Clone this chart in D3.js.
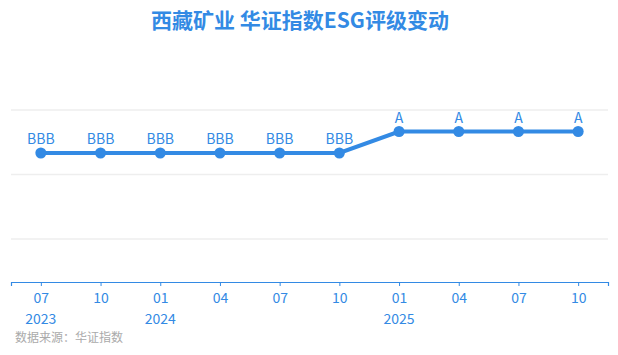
<!DOCTYPE html>
<meta charset="utf-8">
<script src="https://d3js.org/d3.v7.min.js"></script>
<style>
  body { margin: 0; background: #fff; font-family: "Noto Sans CJK SC", "Noto Sans", sans-serif; }
</style>
<body>
<div id="chart"></div>
<script>
// data
const months = ["07", "10", "01", "04", "07", "10", "01", "04", "07", "10"];
const years = ["2023", "", "2024", "", "", "", "2025", "", "", ""];
const ratings = ["BBB", "BBB", "BBB", "BBB", "BBB", "BBB", "A", "A", "A", "A"];
// rating scale (higher is better)
const ratingLevels = ["C", "CC", "CCC", "B", "BB", "BBB", "A", "AA", "AAA"];
const gridValues = [2, 5, 8];

const W = 618, H = 355;
const blue = "#338ae4";
const plot = {left: 11, right: 608, top: 110, bottom: 282};

const svg = d3.select("#chart").append("svg")
  .attr("width", W).attr("height", H);

const idx = d3.range(months.length);
const x = d3.scalePoint().domain(idx).range([plot.left, plot.right]).padding(0.5);
const y = d3.scaleLinear().domain([0, 8]).range([plot.bottom, plot.top]);
const score = r => ratingLevels.indexOf(r) + 1;

// title
svg.append("text")
  .attr("x", 300).attr("y", 28)
  .attr("text-anchor", "middle")
  .attr("font-size", 21).attr("font-weight", "bold")
  .attr("fill", blue)
  .text("西藏矿业 华证指数ESG评级变动");

// gridlines
svg.append("g").selectAll("line")
  .data(gridValues).join("line")
    .attr("x1", plot.left).attr("x2", plot.right)
    .attr("y1", d => y(d)).attr("y2", d => y(d))
    .attr("stroke", "#eeeeee").attr("stroke-width", 1.5);

// x axis
const xAxis = svg.append("g")
  .attr("transform", `translate(0, ${plot.bottom})`)
  .call(d3.axisBottom(x).tickSize(4).tickPadding(7).tickFormat(i => months[i]));
xAxis.select(".domain").attr("stroke", blue).attr("stroke-width", 1.2);
xAxis.selectAll(".tick line").attr("stroke", blue);
xAxis.selectAll(".tick text")
  .attr("fill", blue).attr("font-size", 14)
  .attr("font-family", "'Noto Sans CJK SC', sans-serif");

// year labels
svg.append("g").selectAll("text")
  .data(idx.filter(i => years[i])).join("text")
    .attr("x", i => x(i)).attr("y", 324)
    .attr("text-anchor", "middle")
    .attr("font-size", 14).attr("fill", blue)
    .text(i => years[i]);

// line
svg.append("path")
  .datum(idx)
  .attr("fill", "none")
  .attr("stroke", blue)
  .attr("stroke-width", 4)
  .attr("d", d3.line().x(i => x(i)).y(i => y(score(ratings[i]))));

svg.append("g").selectAll("circle")
  .data(idx).join("circle")
    .attr("cx", i => x(i)).attr("cy", i => y(score(ratings[i])))
    .attr("r", 5.5).attr("fill", blue);

// point labels
svg.append("g").selectAll("text")
  .data(idx).join("text")
    .attr("x", i => x(i)).attr("y", i => y(score(ratings[i])) - 9)
    .attr("text-anchor", "middle")
    .attr("font-size", 14).attr("fill", blue)
    .text(i => ratings[i]);

// source
svg.append("text")
  .attr("x", 15).attr("y", 342)
  .attr("font-size", 12).attr("fill", "#aaaaaa")
  .text("数据来源：华证指数");
</script>
</body>
